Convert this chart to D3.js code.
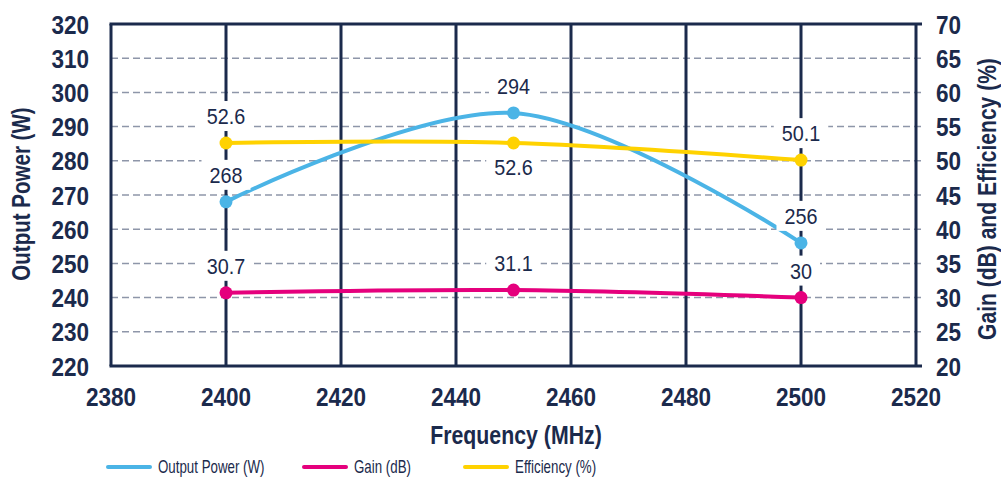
<!DOCTYPE html>
<html>
<head>
<meta charset="utf-8">
<script src="https://cdn.jsdelivr.net/npm/d3@7"></script>
<style>
    body { margin: 0; background: #fff; }
    svg text { font-family: "Liberation Sans", Arial, Helvetica, sans-serif; fill: #1b2a4c; }
</style>
</head>
<body>
<div id="chart"></div>
<script>
(function () {'use strict';

// Data
var frequency    = [2400, 2450, 2500];
var outputPower  = [268, 294, 256];
var gain         = [30.7, 31.1, 30];
var efficiency   = [52.6, 52.6, 50.1];

var xTicks     = [2380, 2400, 2420, 2440, 2460, 2480, 2500, 2520];
var leftTicks  = [220, 230, 240, 250, 260, 270, 280, 290, 300, 310, 320];
var rightTicks = [20, 25, 30, 35, 40, 45, 50, 55, 60, 65, 70];

var navy = '#1b2a4c';

var series = [
    { name: 'Output Power (W)', values: outputPower, axis: 'left',  color: '#4bb4e6', labelSide: ['up', 'up', 'up'] },
    { name: 'Gain (dB)',        values: gain,        axis: 'right', color: '#e5007d', labelSide: ['up', 'up', 'up'] },
    { name: 'Efficiency (%)',   values: efficiency,  axis: 'right', color: '#ffd200', labelSide: ['up', 'down', 'up'] }
];

var width  = 1001,
    height = 477,
    plot   = { left: 111, right: 916, top: 24, bottom: 366 };

var x = d3.scaleLinear()
    .domain([xTicks[0], xTicks[xTicks.length - 1]])
    .range([plot.left, plot.right]);
var yLeft = d3.scaleLinear()
    .domain([leftTicks[0], leftTicks[leftTicks.length - 1]])
    .range([plot.bottom, plot.top]);
var yRight = d3.scaleLinear()
    .domain([rightTicks[0], rightTicks[rightTicks.length - 1]])
    .range([plot.bottom, plot.top]);

var svg = d3.select('#chart')
    .append('svg')
        .attr('width', width)
        .attr('height', height);

// the reference uses a condensed face, squeeze a regular one instead
function squeeze(tx, ty, sx, rot) {
    return 'translate(' + tx + ',' + ty + ')' + (rot ? ' rotate(' + rot + ')' : '') + ' scale(' + sx + ',1)';
}

/*
 * GRID
 */
svg.append('g')
    .attr('class', 'grid horizontal')
    .selectAll('line')
    .data(leftTicks.slice(1, -1))
    .enter().append('line')
        .attr('x1', plot.left)
        .attr('x2', plot.right + 6)
        .attr('y1', function (d) { return yLeft(d); })
        .attr('y2', function (d) { return yLeft(d); })
        .attr('stroke', '#8e96a9')
        .attr('stroke-width', 1.5)
        .attr('stroke-dasharray', '7,4');

svg.append('g')
    .attr('class', 'grid vertical')
    .selectAll('line')
    .data(xTicks)
    .enter().append('line')
        .attr('x1', function (d) { return x(d); })
        .attr('x2', function (d) { return x(d); })
        .attr('y1', plot.top)
        .attr('y2', plot.bottom)
        .attr('stroke', navy)
        .attr('stroke-width', 3);

// top and bottom frame
[plot.top, plot.bottom].forEach(function (yy) {
    svg.append('line')
        .attr('x1', plot.left - 1.5)
        .attr('x2', plot.right + 6)
        .attr('y1', yy)
        .attr('y2', yy)
        .attr('stroke', navy)
        .attr('stroke-width', 3);
});

/*
 * AXES LABELS
 */
var axisFont = 26.5,
    axisSqueeze = 0.85;

svg.append('g')
    .attr('class', 'axis x')
    .selectAll('text')
    .data(xTicks)
    .enter().append('text')
        .attr('transform', function (d) { return squeeze(x(d), plot.bottom + 40, axisSqueeze); })
        .attr('text-anchor', 'middle')
        .attr('font-size', axisFont)
        .attr('font-weight', 'bold')
        .text(function (d) { return d; });

svg.append('g')
    .attr('class', 'axis left')
    .selectAll('text')
    .data(leftTicks)
    .enter().append('text')
        .attr('transform', function (d) { return squeeze(89, yLeft(d), axisSqueeze); })
        .attr('dy', '0.36em')
        .attr('text-anchor', 'end')
        .attr('font-size', axisFont)
        .attr('font-weight', 'bold')
        .text(function (d) { return d; });

svg.append('g')
    .attr('class', 'axis right')
    .selectAll('text')
    .data(rightTicks)
    .enter().append('text')
        .attr('transform', function (d) { return squeeze(936, yRight(d), axisSqueeze); })
        .attr('dy', '0.36em')
        .attr('text-anchor', 'start')
        .attr('font-size', axisFont)
        .attr('font-weight', 'bold')
        .text(function (d) { return d; });

svg.append('text')
    .attr('transform', squeeze(30, 194, 0.79, -90))
    .attr('text-anchor', 'middle')
    .attr('font-size', 26)
    .attr('font-weight', 'bold')
    .text('Output Power (W)');

svg.append('text')
    .attr('transform', squeeze(996, 199, 0.81, -90))
    .attr('text-anchor', 'middle')
    .attr('font-size', 26)
    .attr('font-weight', 'bold')
    .text('Gain (dB) and Efficiency (%)');

svg.append('text')
    .attr('transform', squeeze(516, 444, 0.82))
    .attr('text-anchor', 'middle')
    .attr('font-size', 26)
    .attr('font-weight', 'bold')
    .text('Frequency (MHz)');

/*
 * SERIES
 */
function yFor(s) { return s.axis === 'left' ? yLeft : yRight; }

series.forEach(function (s) {
    var y = yFor(s);
    var line = d3.line()
        .x(function (d, i) { return x(frequency[i]); })
        .y(function (d) { return y(d); })
        .curve(d3.curveCatmullRom.alpha(0.5));

    svg.append('path')
        .attr('class', 'line')
        .attr('d', line(s.values))
        .attr('fill', 'none')
        .attr('stroke', s.color)
        .attr('stroke-width', 4)
        .attr('stroke-linecap', 'round');

    svg.append('g')
        .selectAll('circle')
        .data(s.values)
        .enter().append('circle')
            .attr('cx', function (d, i) { return x(frequency[i]); })
            .attr('cy', function (d) { return y(d); })
            .attr('r', 6.5)
            .attr('fill', s.color);
});

// Data labels, white boxes on top of the grid
series.forEach(function (s) {
    var y = yFor(s);
    s.values.forEach(function (d, i) {
        var cy = y(d) + (s.labelSide[i] === 'up' ? -27 : 24);
        var g = svg.append('g')
            .attr('class', 'data-label')
            .attr('transform', 'translate(' + x(frequency[i]) + ',' + cy + ')');
        var rect = g.append('rect').attr('fill', '#fff');
        var t = g.append('text')
            .attr('transform', 'scale(0.9,1)')
            .attr('text-anchor', 'middle')
            .attr('dy', '0.36em')
            .attr('font-size', 22)
            .text(d);
        var w = t.node().getComputedTextLength() * 0.9 + 16;
        rect.attr('x', -w / 2)
            .attr('y', -15)
            .attr('width', w)
            .attr('height', 30);
    });
});

/*
 * LEGEND
 */
var legendX = [108, 304, 465];
var legend = svg.append('g').attr('class', 'legend');
series.forEach(function (s, i) {
    legend.append('line')
        .attr('x1', legendX[i])
        .attr('x2', legendX[i] + 42)
        .attr('y1', 467)
        .attr('y2', 467)
        .attr('stroke', s.color)
        .attr('stroke-width', 4)
        .attr('stroke-linecap', 'round');
    legend.append('text')
        .attr('transform', squeeze(legendX[i] + 50, 467, 0.74))
        .attr('dy', '0.36em')
        .attr('font-size', 18)
        .text(s.name);
});

})();
</script>
</body>
</html>
